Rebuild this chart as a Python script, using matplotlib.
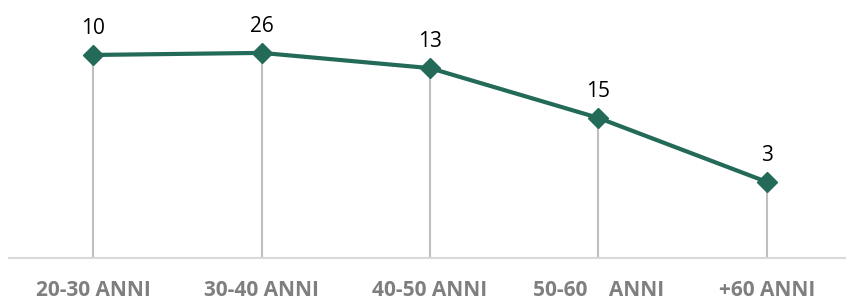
import matplotlib
matplotlib.use("Agg")
from matplotlib import pyplot as plt

categories = ["20-30 ANNI", "30-40 ANNI", "40-50 ANNI", "50-60    ANNI", "+60 ANNI"]
heights = [78.7, 79.5, 73.6, 54.3, 29.5]   # line position
labels = ["10", "26", "13", "15", "3"]      # data labels shown above the points

plt.rcParams['font.family'] = ['Open Sans', 'DejaVu Sans']

fig = plt.figure(figsize=(8.46, 3.0), dpi=100)
ax = fig.add_axes([9 / 846, 42 / 300, 842 / 846, 258 / 300])

xs = list(range(len(categories)))

# drop lines from each point to the axis
ax.vlines(xs, 0, heights, color='#bfbfbf', linewidth=1.5, zorder=1)

ax.plot(xs, heights, color='#236a59', linewidth=3, marker='D', markersize=10,
        zorder=3, solid_joinstyle='round')

for x, h, lab in zip(xs, heights, labels):
    ax.annotate(lab, (x, h), xytext=(0, 15), textcoords='offset points',
                ha='center', va='baseline', fontsize=15, color='black')

ax.set_xlim(-0.5, 4.5)
ax.set_ylim(0, 100)
ax.set_xticks(xs)
ax.set_xticklabels(categories, fontsize=15, fontweight='bold', color='#7f7f7f')
ax.tick_params(axis='x', length=0, pad=16)
ax.set_yticks([])

for side in ['top', 'right', 'left']:
    ax.spines[side].set_visible(False)
ax.spines['bottom'].set_color('#d9d9d9')
ax.spines['bottom'].set_linewidth(1.5)

fig.savefig('out.png', dpi=100)
